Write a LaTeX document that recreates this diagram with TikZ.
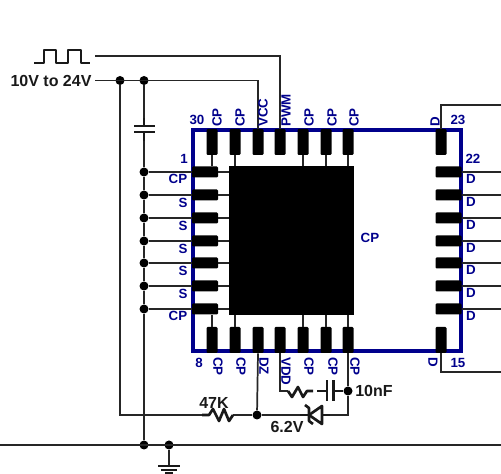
\documentclass[tikz,border=0pt]{standalone}
\usepackage{fontspec}
\setmainfont{Liberation Sans}
\definecolor{icblue}{HTML}{00008C}
\definecolor{wirec}{HTML}{262626}
\tikzset{
  wire/.style={draw=wirec,line width=1.3pt},
  thick part/.style={draw=black!90,line width=2pt,line join=round},
  dotj/.style={circle,fill=black,inner sep=0pt,minimum size=6.75pt},
  vpin/.style={fill=black,rounded corners=0.8pt,inner sep=0pt,minimum width=8.25pt,minimum height=19.5pt},
  hpin/.style={fill=black,rounded corners=0.8pt,inner sep=0pt,minimum width=19.5pt,minimum height=8.25pt},
  pinlab/.style={text=icblue,font=\bfseries\fontsize{10}{10}\selectfont,inner sep=0pt},
  vallab/.style={text=black!90,font=\bfseries\fontsize{12}{12}\selectfont,inner sep=0pt},
}
\begin{document}
\begin{tikzpicture}[x=0.75pt,y=-0.75pt]
\useasboundingbox (0,0) rectangle (501,474);
\coordinate (E) at (501,0);
% chip
\node[draw=icblue,line width=3pt,minimum width=201pt,minimum height=165.75pt,inner sep=0pt] (ic) at (327,241) {};
\node[fill=black,inner sep=0pt,minimum width=93.75pt,minimum height=111.75pt] (pad) at (291.5,240.5) {};
% pins
\foreach \n/\x in {1/212,2/235,3/258,4/280,5/303,6/326,7/348,8/441}{
  \node[vpin] (t\n) at (\x,142) {};
  \node[vpin] (b\n) at (\x,340) {};
}
\foreach \n/\y in {1/172,2/195,3/218,4/241,5/263,6/286,7/309}{
  \node[hpin] (l\n) at (205,\y) {};
  \node[hpin] (r\n) at (448.5,\y) {};
  \node[dotj] (j\n) at (144,\y) {};
  \draw[wire] (j\n) -- (l\n.west);
  \draw[wire] (l\n.east) -- (l\n.east -| pad.west);
  \draw[wire] (r\n.east) -- (r\n.east -| E);
}
\draw[wire] (j1) -- (j2) -- (j3) -- (j4) -- (j5) -- (j6) -- (j7);
\draw[wire] (t1.south) -- (t1.south |- l1.north);
\draw[wire] (b1.north) -- (b1.north |- l7.south);
\foreach \n in {2,5,6,7}{
  \draw[wire] (t\n.south) -- (t\n.south |- pad.north);
  \draw[wire] (b\n.north) -- (b\n.north |- pad.south);
}
% D pins out
\coordinate (dt) at (441,105);
\coordinate (db) at (441,372);
\draw[wire] (t8.north) -- (dt) -- (dt -| E);
\draw[wire] (b8.south) -- (db) -- (db -| E);
% input wires
\node[dotj] (ja) at (120,80.5) {};
\node[dotj] (jb) at (144,80.5) {};
\coordinate (in1) at (95,56);
\coordinate (in2) at (95,80.5);
\draw[wire] (in1) -- (in1 -| t4) -- (t4.north);
\draw[wire] (in2) -- (in2 -| t3) -- (t3.north);
% pulse
\draw[thick part] (34,63) -| (44,50) -| (56,63) -| (68,50) -| (81,63) -- (90,63);
% cap on supply
\coordinate (capa) at (144,126);
\coordinate (capb) at (144,132);
\draw[wire] (jb) -- (capa);
\draw[wire] (capb) -- (j1);
\draw[thick part] (134,126) -- (155,126);
\draw[thick part] (134,132) -- (155,132);
\draw[thick part] (144,118) -- (capa);
\draw[thick part] (capb) -- (144,141);
% ground bus
\coordinate (busl) at (0,445);
\node[dotj] (jg1) at (144,445) {};
\node[dotj] (jg2) at (169,445) {};
\draw[wire] (busl) -- (busl -| E);
\draw[wire] (j7) -- (jg1);
\coordinate (gnd) at (169,466);
\draw[wire] (jg2) -- (gnd);
\draw[thick part] (158,466) -- (180,466);
\draw[thick part] (161,470) -- (177,470);
\draw[thick part] (165,473) -- (173,473);
% feedback line
\node[dotj] (jr) at (257,415) {};
\node[dotj] (jc) at (348,391) {};
\coordinate (rl) at (202,415);
\coordinate (rr) at (233,415);
\coordinate (dcat) at (300,415);
\coordinate (dan) at (330,415);
\coordinate (corner) at (348,415);
\draw[wire] (ja) -- (120,415) -- (rl);
\draw[wire] (rr) -- (jr) -- (dcat);
\draw[wire] (dan) -- (corner) -- (jc) -- (b7.south);
\draw[wire] (b3.south) -- (jr);
\draw[thick part] (rl) -- (209,415) -- (213,409) -- (219,421) -- (224,409) -- (229,421) -- (233,415);
% zener
\draw[thick part] (322,415) -- (dan);
\draw[thick part] (300,415) -- (309,415);
\draw[thick part] (322,406) -- (322,424) -- (309,415) -- cycle;
\draw[thick part] (305,405) -- (309,408) -- (309,421) -- (313,424);
% VDD branch
\coordinate (vc) at (280,391);
\coordinate (r2l) at (288,391);
\coordinate (r2r) at (307,391);
\coordinate (c2l) at (327,391);
\coordinate (c2r) at (333.5,391);
\draw[wire] (b4.south) -- (vc) -- (r2l);
\draw[thick part] (r2l) -- (292,397) -- (298,387) -- (303,397) -- (r2r) -- (313,391);
\draw[thick part] (317,391) -- (c2l);
\draw[thick part] (c2l) ++(0,-10.5) -- ++(0,21);
\draw[thick part] (c2r) ++(0,-10.5) -- ++(0,21);
\draw[thick part] (c2r) -- (jc);
% labels
\node[vallab] (t10v) at (51,81) {10V to 24V};
\node[vallab] (t47k) at (214,403) {47K};
\node[vallab] (t62v) at (287,427) {6.2V};
\node[vallab,anchor=west] (t10n) at (355,391) {10nF};
\foreach \n/\x/\s in {1/217/CP,2/240/CP,3/263/VCC,4/286/PWM,5/309/CP,6/332/CP,7/354/CP}{
  \node[pinlab,rotate=90,anchor=west] (lt\n) at (\x,127) {\s};
}
\node[pinlab,rotate=90,anchor=west] (ltd) at (435,127) {D};
\foreach \n/\x/\s in {1/218/CP,2/241/CP,3/264/DZ,4/286/VDD,5/309/CP,6/333/CP,7/355/CP}{
  \node[pinlab,rotate=-90,anchor=west] (lb\n) at (\x,357) {\s};
}
\node[pinlab,rotate=-90,anchor=west] (lbd) at (433,357) {D};
\node[pinlab] (n30) at (197,120) {30};
\node[pinlab] (n1) at (184,159) {1};
\node[pinlab] (n8) at (199,363) {8};
\node[pinlab] (n23) at (458,120) {23};
\node[pinlab] (n22) at (473,159) {22};
\node[pinlab] (n15) at (458,363) {15};
\node[pinlab] (lcp1) at (178,179) {CP};
\node[pinlab] (lcp2) at (178,316) {CP};
\foreach \n/\y in {2/203,3/226,4/249,5/271,6/294}{
  \node[pinlab] (ls\n) at (183,\y) {S};
}
\foreach \n/\y in {1/179,2/202,3/225,4/248,5/270,6/293,7/316}{
  \node[pinlab] (rd\n) at (471,\y) {D};
}
\node[pinlab] (ccp) at (370,238) {CP};
\end{tikzpicture}
\end{document}
